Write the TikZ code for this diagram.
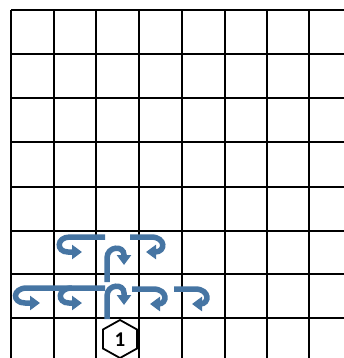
\documentclass[tikz,border=0pt]{standalone}
\usepackage{fontspec}
\setmainfont{Carlito}
\usetikzlibrary{arrows.meta}
\definecolor{arrowblue}{RGB}{70,117,163}
\tikzset{
  gridline/.style={line width=2pt, black},
  curl/.style={line width=5.5pt, arrowblue, -{Triangle[width=14pt,length=10pt]}},
  hexline/.style={line width=1.8pt, draw=black, fill=white},
  digit/.style={font=\bfseries\fontsize{21}{21}\selectfont, inner sep=0pt}
}
\begin{document}
\begin{tikzpicture}[x=1pt,y=-1pt]
\useasboundingbox (0,0) rectangle (344,358);
\fill[white] (0,0) rectangle (344,358);
% grid
\foreach \x in {11,53.5,96,138.5,181.5,224.5,266.5,309}
  \draw[gridline] (\x,10) -- (\x,360);
\foreach \y in {10,54,98,142,186.5,231,274,318}
  \draw[gridline] (11,\y) -- (346,\y);
% upper row of curls
\draw[curl] (105,237) -- (70,237) .. controls (56,237) and (56,252) .. (68,252) -- (82,252);
\draw[curl] (107,282) -- (107,258) .. controls (107,246) and (124,245) .. (124,255) -- (124,265);
\draw[curl] (130,237) -- (151,237) .. controls (166,237) and (166,252) .. (155,252) -- (146,252);
% lower row of curls
\draw[curl] (105,288) -- (27,288) .. controls (12,288) and (12,303) .. (25,303) -- (40,303);
\draw[curl] (72,288) .. controls (57,288) and (57,303) .. (69,303) -- (82,303);
\draw[curl] (107,319) -- (107,296) .. controls (107,284) and (124,283) .. (124,293) -- (124,305);
\draw[curl] (132,289) -- (153,289) .. controls (168,289) and (168,304) .. (158,304) -- (150,304);
\draw[curl] (174,289) -- (195,289) .. controls (210,289) and (210,304) .. (200,304) -- (192,304);
% hexagon label
\draw[hexline] (120,320) -- (137,329.5) -- (137,348.5) -- (120,358) -- (103,348.5) -- (103,329.5) -- cycle;
\node[digit] (one) at (120,340) {1};
\end{tikzpicture}
\end{document}
